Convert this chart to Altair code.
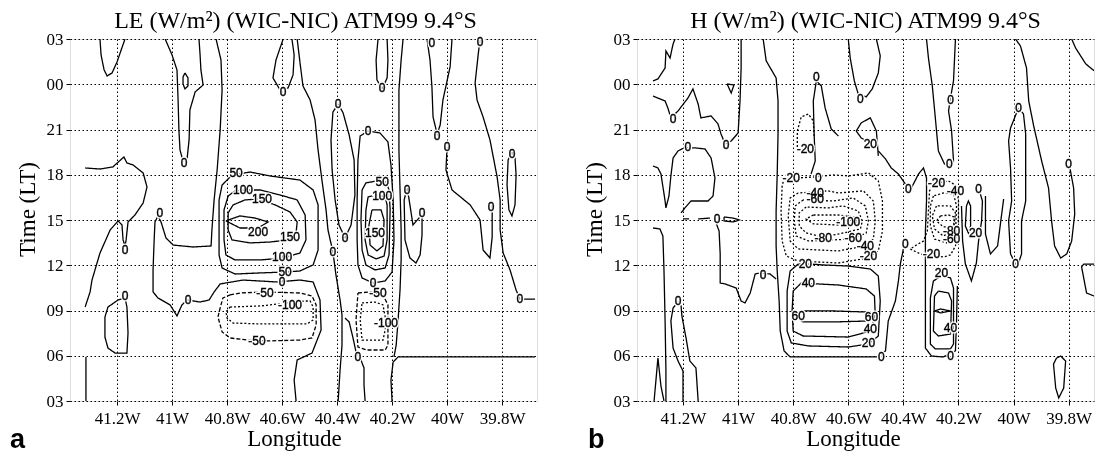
import altair as alt
import pandas as pd

# ---------------- axes ----------------
X_TICKS_W = [41.2, 41.0, 40.8, 40.6, 40.4, 40.2, 40.0, 39.8]
Y_TICKS = [3, 6, 9, 12, 15, 18, 21, 24, 27]          # 24..27 = 00..03 next day
LE_XDOMAIN_W = [41.371, 39.673]
H_XDOMAIN_W = [41.367, 39.708]
TITLE_LE = "LE (W/m²) (WIC-NIC) ATM99 9.4°S"
TITLE_H = "H (W/m²) (WIC-NIC) ATM99 9.4°S"

# ---------------- LE panel contours: (longitude °W, hour) ----------------
le_c01 = [(41.262,27.0),(41.258,25.94),(41.247,24.95),(41.236,24.55),(41.218,24.75),(41.200,25.48),(41.185,26.27),(41.171,27.0)]
le_c02 = [(41.025,27.0),(41.000,25.94),(40.982,24.95),(40.978,22.96),(40.975,20.97),(40.971,19.64),(40.960,18.91),(40.945,19.11),(40.938,20.31),(40.935,22.30),(40.916,23.49),(40.887,23.95),(40.895,24.95),(40.898,25.94),(40.902,27.0)]
le_c03 = [(40.953,24.75),(40.942,24.42),(40.942,23.89),(40.953,23.69),(40.960,24.02),(40.960,24.48),(40.953,24.75)]
le_c04 = [(41.316,18.45),(41.262,18.38),(41.215,18.52),(41.175,19.18),(41.164,18.78),(41.142,18.65),(41.105,18.12),(41.091,17.19),(41.105,16.13),(41.135,15.33),(41.160,14.87),(41.167,13.68),(41.171,13.28),(41.178,13.68),(41.182,14.67),(41.196,14.94),(41.225,14.34),(41.262,12.81),(41.291,11.02),(41.298,10.23),(41.316,9.23)]
le_c05 = [(41.171,9.83),(41.196,9.70),(41.233,9.23),(41.244,8.57),(41.244,7.24),(41.233,6.51),(41.207,6.18),(41.164,6.18),(41.160,7.51),(41.164,9.23),(41.171,9.83)]
le_c06 = [(40.840,27.0),(40.822,25.61),(40.818,23.62),(40.825,20.97),(40.836,18.32),(40.847,16.33),(40.855,14.34),(40.858,13.28),(40.924,13.21),(40.996,13.34),(41.022,13.81),(41.040,14.87),(41.051,15.27),(41.062,14.87),(41.065,13.68),(41.069,11.69),(41.069,10.23),(41.051,9.83),(41.007,9.37),(40.982,8.64),(40.964,9.37),(40.945,9.70),(40.898,9.56),(40.865,9.70),(40.847,10.23),(40.825,10.76),(40.742,11.02),(40.618,10.89),(40.535,11.02),(40.487,10.89),(40.462,9.70),(40.458,7.71),(40.491,6.18),(40.545,5.72),(40.556,4.39),(40.549,3.0)]
le_c07 = [(40.545,27.0),(40.535,25.48),(40.524,23.89),(40.498,22.96),(40.480,21.63),(40.469,19.64),(40.455,17.65),(40.440,15.67),(40.433,14.34),(40.415,12.88),(40.404,11.36),(40.389,9.70),(40.382,8.70),(40.382,6.71),(40.389,5.06),(40.396,3.0)]
le_c08 = [(40.596,27.0),(40.622,25.61),(40.633,24.42),(40.607,23.62),(40.578,23.76),(40.560,24.62),(40.556,25.94),(40.564,27.0)]
le_c09 = [(40.396,22.69),(40.415,22.16),(40.422,20.31),(40.418,18.32),(40.407,16.33),(40.393,14.67),(40.371,13.81),(40.349,14.67),(40.335,16.66),(40.338,18.98),(40.356,20.64),(40.378,22.10),(40.396,22.69)]
le_c10 = [(40.287,20.90),(40.316,20.57),(40.324,18.98),(40.327,16.33),(40.327,13.68),(40.324,12.02),(40.309,11.16),(40.269,10.82),(40.225,10.96),(40.200,11.55),(40.193,13.68),(40.196,16.33),(40.204,18.65),(40.215,20.18),(40.244,20.77),(40.287,20.90)]
le_c11 = [(40.255,17.59),(40.295,17.46),(40.309,16.99),(40.313,15.0),(40.309,13.01),(40.295,12.02),(40.262,11.69),(40.225,11.82),(40.211,12.68),(40.207,15.67),(40.211,16.99),(40.222,17.52),(40.255,17.59)]
le_c12 = [(40.258,16.66),(40.287,16.53),(40.295,15.67),(40.298,13.68),(40.287,12.68),(40.258,12.42),(40.229,12.61),(40.218,13.68),(40.218,16.0),(40.225,16.53),(40.258,16.66)]
le_c13 = [(40.273,15.67),(40.284,14.67),(40.280,13.34),(40.255,12.95),(40.233,13.28),(40.229,15.0),(40.240,15.67),(40.273,15.67)]
le_c14 = [(40.760,18.05),(40.716,18.18),(40.644,17.92),(40.535,17.65),(40.487,16.99),(40.469,16.00),(40.469,13.01),(40.487,12.02),(40.535,11.62),(40.589,11.55),(40.680,11.49),(40.771,11.42),(40.818,11.82),(40.829,12.68),(40.829,16.33),(40.818,17.32),(40.789,17.85),(40.760,18.05)]
le_c15 = [(40.735,16.99),(40.680,16.99),(40.607,16.66),(40.545,16.33),(40.516,15.33),(40.513,13.68),(40.535,12.81),(40.596,12.48),(40.680,12.35),(40.771,12.35),(40.804,12.68),(40.811,13.68),(40.811,15.67),(40.796,16.59),(40.771,16.93),(40.735,16.99)]
le_c16 = [(40.687,16.39),(40.625,16.00),(40.571,15.53),(40.545,14.87),(40.549,14.14),(40.578,13.68),(40.644,13.54),(40.716,13.48),(40.782,13.68),(40.796,14.34),(40.796,15.47),(40.778,16.00),(40.735,16.33),(40.687,16.39)]
le_c17 = [(40.804,14.94),(40.753,15.27),(40.698,15.13),(40.651,14.87),(40.687,14.47),(40.753,14.47),(40.804,14.94)]
le_c18 = [(40.789,10.03),(40.753,10.16),(40.662,10.23),(40.535,10.16),(40.491,9.96),(40.476,9.37),(40.476,8.04),(40.491,7.18),(40.535,7.04),(40.655,6.98),(40.727,7.04),(40.789,7.18),(40.818,7.58),(40.833,8.57),(40.825,9.17),(40.815,9.83),(40.789,10.03)]
le_c19 = [(40.789,9.23),(40.680,9.30),(40.516,9.63),(40.498,9.63),(40.487,9.23),(40.487,8.37),(40.509,8.11),(40.680,8.11),(40.778,8.17),(40.800,8.50),(40.804,8.90),(40.789,9.23)]
le_c20 = [(40.324,10.16),(40.280,10.23),(40.233,10.03),(40.215,9.37),(40.215,6.71),(40.225,6.38),(40.291,6.38),(40.324,6.58),(40.331,8.37),(40.324,10.16)]
le_c21 = [(40.309,9.50),(40.262,9.56),(40.233,9.37),(40.225,8.57),(40.225,7.71),(40.233,7.04),(40.309,7.04),(40.316,8.37),(40.309,9.50)]
le_c22 = [(40.371,8.50),(40.356,8.24),(40.342,7.18),(40.331,6.25),(40.316,5.85),(40.302,5.19),(40.302,4.06),(40.298,3.0)]
le_c23 = [(40.200,3.0),(40.204,4.39),(40.196,5.59),(40.178,5.92),(39.989,5.92),(39.680,5.92)]
le_c24 = [(40.160,27.0),(40.167,25.61),(40.175,23.62),(40.175,21.63),(40.175,19.64),(40.171,16.99),(40.167,14.34),(40.167,12.35),(40.171,10.36),(40.178,8.37),(40.185,6.71),(40.193,5.92)]
le_c25 = [(40.145,17.12),(40.156,16.33),(40.153,13.68),(40.135,12.48),(40.113,12.15),(40.098,12.68),(40.091,14.01),(40.091,15.33),(40.102,15.13),(40.124,14.67),(40.135,16.0),(40.145,17.12)]
le_c26 = [(40.073,27.0),(40.062,25.61),(40.055,23.82),(40.051,21.83),(40.036,20.70),(40.025,21.30),(40.015,22.96),(39.989,25.15),(39.982,27.0)]
le_c27 = [(39.880,27.0),(39.887,25.94),(39.898,24.09),(39.891,22.96),(39.869,21.83),(39.844,20.31),(39.818,17.85),(39.807,16.33),(39.807,14.34),(39.796,12.81),(39.771,11.69),(39.749,10.36),(39.735,9.76),(39.680,9.76)]
le_c28 = [(40.000,19.78),(40.004,18.32),(39.982,16.99),(39.916,16.0),(39.880,15.0),(39.869,13.01),(39.844,12.48),(39.836,13.87),(39.836,16.0)]
le_c29 = [(39.764,19.51),(39.778,18.98),(39.782,17.32),(39.775,15.67),(39.764,15.27),(39.753,16.0),(39.749,17.99),(39.753,19.11),(39.764,19.51)]
le_c30 = [(41.313,5.92),(41.313,3.0)]
le_c31 = [(40.251,27.0),(40.258,25.61),(40.255,24.29),(40.236,23.69),(40.218,24.42),(40.215,25.61),(40.218,27.0)]

LE_LINES = [
    ("solid", le_c01), ("solid", le_c02), ("solid", le_c03), ("solid", le_c04), ("solid", le_c05),
    ("solid", le_c06), ("solid", le_c07), ("solid", le_c08), ("solid", le_c09), ("solid", le_c10),
    ("solid", le_c11), ("solid", le_c12), ("solid", le_c13), ("solid", le_c14), ("solid", le_c15),
    ("solid", le_c16), ("solid", le_c17), ("dash", le_c18), ("dot", le_c19), ("dash", le_c20),
    ("dot", le_c21), ("solid", le_c22), ("solid", le_c23), ("solid", le_c24), ("solid", le_c25),
    ("solid", le_c26), ("solid", le_c27), ("solid", le_c28), ("solid", le_c29), ("solid", le_c30),
    ("solid", le_c31),
]

LE_LABELS = [
    ("0", 40.956, 18.78), ("0", 41.171, 13.01), ("0", 41.171, 9.96), ("0", 41.044, 15.47),
    ("0", 40.942, 9.70), ("0", 40.600, 10.89), ("0", 40.415, 12.88), ("0", 40.596, 23.49),
    ("0", 40.396, 22.69), ("0", 40.371, 13.81), ("0", 40.287, 20.90), ("0", 40.269, 10.82),
    ("50", 40.236, 17.52), ("100", 40.236, 16.59), ("150", 40.262, 14.14),
    ("50", 40.767, 18.12), ("50", 40.589, 11.55), ("100", 40.742, 16.99), ("100", 40.600, 12.55),
    ("150", 40.673, 16.39), ("150", 40.571, 13.87), ("200", 40.687, 14.21),
    ("-50", 40.662, 10.16), ("-50", 40.691, 6.98), ("-100", 40.571, 9.37),
    ("-50", 40.251, 10.16), ("-100", 40.222, 8.17), ("0", 40.324, 5.92),
    ("0", 40.145, 16.99), ("0", 40.091, 15.47), ("0", 40.055, 26.74), ("0", 40.036, 20.57),
    ("0", 39.880, 26.80), ("0", 39.735, 9.76), ("0", 40.000, 19.84), ("0", 39.840, 15.86),
    ("0", 39.764, 19.38), ("0", 40.236, 23.76),
]

# ---------------- H panel contours ----------------
h_c01 = [(41.309,24.22),(41.291,24.35),(41.265,25.08),(41.262,26.21),(41.247,25.74),(41.236,26.67),(41.229,27.0)]
h_c02 = [(41.309,23.22),(41.265,22.89),(41.255,22.43),(41.244,21.77),(41.218,22.23),(41.182,23.09),(41.164,23.69),(41.145,22.69),(41.135,21.77),(41.098,21.90),(41.073,21.37),(41.062,20.70),(41.047,20.04),(41.025,20.24),(41.000,20.77),(40.993,22.89),(40.989,25.08),(40.989,27.0)]
h_c03 = [(41.040,24.02),(41.015,23.95),(41.025,23.42),(41.040,24.02)]
h_c04 = [(40.909,27.0),(40.898,25.55),(40.862,24.42),(40.855,22.89),(40.855,20.70),(40.858,18.05),(40.862,15.60),(40.862,13.28),(40.858,11.62),(40.851,9.63),(40.847,7.64),(40.833,6.32),(40.811,5.92),(40.600,5.92),(40.491,5.92),(40.465,6.32),(40.455,8.30),(40.429,9.63),(40.418,10.96),(40.411,12.08),(40.400,13.08)]
h_c05 = [(41.309,18.58),(41.291,18.45),(41.280,18.05),(41.265,16.26),(41.262,15.80),(41.251,16.59),(41.244,17.92),(41.236,19.11),(41.218,19.58),(41.196,19.78),(41.156,19.78),(41.120,19.71),(41.098,19.11),(41.084,17.79),(41.091,16.59),(41.109,16.26),(41.171,16.26),(41.193,15.80),(41.207,15.47)]
h_c06a = [(41.145,15.07),(41.102,15.13)]
h_c06b = [(41.051,15.20),(41.018,15.13),(40.996,15.00),(41.018,14.87),(41.051,14.94),(41.051,15.20)]
h_c06c = [(41.200,15.07),(41.178,15.07)]
h_c07 = [(41.309,14.47),(41.284,14.41),(41.273,13.94),(41.269,11.62),(41.265,8.30),(41.262,4.99),(41.262,3.0)]
h_c08 = [(41.305,3.0),(41.291,5.85),(41.280,3.99),(41.269,3.0)]
h_c09 = [(41.200,3.0),(41.200,4.99),(41.218,5.65),(41.236,6.51),(41.244,8.30),(41.236,9.17),(41.218,9.56),(41.207,9.30),(41.204,8.64),(41.189,7.18),(41.175,5.65),(41.153,5.19),(41.145,3.0)]
h_c10 = [(41.080,14.80),(41.069,14.27),(41.065,12.75),(41.065,10.82),(41.047,10.76),(41.007,10.49),(40.989,9.63),(40.975,9.50),(40.956,10.16),(40.938,11.42),(40.920,11.49),(40.884,11.42),(40.862,11.09)]
h_c11 = [(40.735,18.05),(40.720,18.91),(40.724,20.70),(40.727,22.89),(40.716,24.22),(40.698,23.89),(40.684,22.43),(40.662,21.04),(40.636,20.57)]
h_c12 = [(40.785,19.58),(40.785,20.90),(40.771,21.83),(40.745,22.03),(40.727,21.57),(40.724,20.57)]
h_c13 = [(40.600,27.0),(40.593,25.74),(40.578,24.22),(40.564,23.36),(40.535,23.16),(40.513,23.69),(40.491,24.75),(40.484,25.88),(40.498,27.0)]
h_c14 = [(40.491,19.25),(40.498,20.90),(40.520,21.77),(40.553,21.44),(40.571,20.90),(40.553,20.44),(40.535,20.24)]
h_c15 = [(40.491,19.58),(40.465,19.05),(40.444,18.45),(40.418,18.05),(40.393,17.39),(40.371,17.12),(40.345,18.05),(40.327,18.45),(40.316,17.79),(40.316,16.26),(40.320,14.27),(40.320,12.28),(40.320,10.49),(40.320,6.51),(40.298,5.98),(40.255,5.92),(40.211,6.32),(40.207,8.30),(40.204,10.63)]
h_c16 = [(40.375,13.08),(40.338,12.75),(40.309,12.68),(40.255,12.55),(40.229,12.68),(40.211,13.28),(40.200,14.27),(40.200,16.26),(40.207,17.26),(40.236,17.59),(40.291,17.39),(40.305,16.93),(40.309,15.60),(40.313,14.27),(40.327,13.61),(40.353,13.34),(40.375,13.08)]
h_c17 = [(40.291,16.59),(40.302,15.93),(40.302,14.60),(40.287,13.74),(40.244,13.48),(40.211,13.94),(40.207,15.93),(40.218,16.72),(40.255,16.79),(40.291,16.59)]
h_c18 = [(40.280,15.93),(40.295,15.27),(40.287,14.41),(40.255,13.94),(40.218,14.27),(40.211,15.47),(40.229,15.93),(40.280,15.93)]
h_c19 = [(40.265,15.27),(40.280,14.94),(40.255,14.54),(40.218,14.54),(40.215,15.20),(40.236,15.33),(40.265,15.27)]
h_c20 = [(40.171,15.93),(40.175,14.60),(40.164,14.14),(40.156,14.60),(40.156,15.93),(40.164,16.26),(40.171,15.93)]
h_c21 = [(40.189,15.93),(40.185,13.61),(40.175,12.08),(40.153,10.96),(40.135,12.15),(40.127,13.61),(40.116,14.94),(40.113,16.26),(40.124,16.93)]
h_c22 = [(40.102,16.59),(40.102,14.07),(40.084,12.75),(40.058,13.28),(40.044,15.27),(40.036,16.39)]
h_c23 = [(39.982,22.43),(40.011,21.10),(40.018,20.24),(40.011,18.45),(40.007,16.26),(40.018,14.94),(40.011,12.75),(39.993,12.08),(39.982,12.15),(39.971,12.75),(39.971,14.94),(39.956,16.26),(39.956,18.45),(39.956,20.70),(39.964,22.03),(39.982,22.43)]
h_c24 = [(39.993,27.0),(39.975,26.54),(39.953,25.08),(39.945,22.89),(39.927,21.24),(39.898,18.91),(39.873,17.12),(39.862,14.94),(39.851,13.28),(39.829,12.48),(39.807,12.75),(39.789,13.61),(39.778,15.40),(39.782,17.12),(39.796,18.52)]
h_c25 = [(39.789,27.0),(39.775,26.41),(39.738,25.35),(39.708,24.90)]
h_c26 = [(39.708,12.08),(39.745,12.08),(39.753,11.89),(39.735,10.16),(39.708,9.96)]
h_c27 = [(39.844,5.85),(39.855,5.45),(39.847,3.86),(39.836,3.20),(39.818,3.86),(39.811,5.65),(39.829,5.98),(39.844,5.85)]
h_c28 = [(40.833,17.79),(40.840,17.26),(40.844,15.60),(40.840,13.61),(40.825,12.61),(40.782,12.28),(40.636,12.15),(40.527,12.48),(40.491,12.95),(40.476,14.27),(40.476,16.26),(40.491,17.59),(40.527,18.12),(40.600,17.92),(40.655,17.99),(40.727,17.85),(40.782,17.79),(40.833,17.79)]
h_c29 = [(40.782,16.79),(40.811,16.46),(40.818,15.27),(40.811,13.61),(40.782,13.08),(40.636,12.95),(40.538,13.28),(40.509,13.74),(40.502,14.94),(40.509,16.26),(40.545,16.93),(40.636,16.79),(40.673,16.93),(40.782,16.79)]
h_c30 = [(40.764,16.33),(40.793,15.93),(40.796,14.94),(40.789,13.94),(40.745,13.61),(40.582,13.74),(40.535,14.14),(40.527,14.94),(40.538,15.93),(40.582,16.46),(40.655,16.26),(40.764,16.33)]
h_c31 = [(40.753,15.86),(40.778,15.47),(40.778,14.60),(40.753,14.14),(40.691,13.87),(40.618,14.14),(40.556,14.41),(40.549,14.94),(40.564,15.60),(40.618,15.93),(40.673,15.80),(40.753,15.86)]
h_c32 = [(40.727,15.33),(40.753,15.07),(40.727,14.74),(40.636,14.67),(40.564,14.80),(40.578,15.20),(40.636,15.33),(40.727,15.33)]
h_c33 = [(40.782,12.08),(40.811,11.62),(40.822,10.29),(40.822,7.64),(40.807,6.85),(40.745,6.65),(40.600,6.58),(40.527,6.78),(40.491,7.31),(40.484,9.63),(40.491,11.29),(40.520,11.75),(40.600,11.95),(40.691,12.02),(40.738,12.08),(40.782,12.08)]
h_c34 = [(40.771,10.82),(40.800,10.29),(40.804,8.97),(40.800,7.64),(40.764,7.31),(40.600,7.24),(40.520,7.64),(40.502,8.64),(40.505,9.96),(40.535,10.43),(40.636,10.69),(40.709,10.76),(40.771,10.82)]
h_c35 = [(40.764,8.97),(40.655,8.97),(40.535,8.90),(40.502,8.64),(40.535,8.30),(40.655,8.24),(40.764,8.24),(40.793,8.57),(40.764,8.97)]
h_c38 = [(40.291,10.96),(40.302,9.83),(40.302,6.78),(40.284,6.45),(40.229,6.45),(40.218,6.78),(40.218,10.49),(40.229,11.16),(40.262,11.29),(40.291,10.96)]
h_c39 = [(40.273,10.29),(40.287,9.96),(40.291,7.64),(40.273,7.31),(40.229,7.44),(40.225,9.63),(40.236,10.16),(40.273,10.29)]
h_c40 = [(40.287,8.97),(40.265,9.10),(40.229,8.97),(40.265,8.84),(40.287,8.97)]
h_c42 = [(40.316,27.0),(40.309,25.74),(40.295,23.89),(40.284,21.77),(40.273,19.58),(40.251,18.72),(40.233,18.58),(40.218,18.91),(40.225,20.90),(40.236,22.23),(40.229,23.09),(40.218,24.22),(40.211,27.0)]

H_LINES = [
    ("solid", h_c01), ("solid", h_c02), ("solid", h_c03), ("solid", h_c04), ("solid", h_c05),
    ("solid", h_c06a), ("solid", h_c06b), ("solid", h_c06c), ("solid", h_c07), ("solid", h_c08),
    ("solid", h_c09), ("solid", h_c10), ("solid", h_c11), ("dot", h_c12), ("solid", h_c13),
    ("solid", h_c14), ("solid", h_c15), ("dot", h_c16), ("dot", h_c17), ("dot", h_c18),
    ("dot", h_c19), ("solid", h_c20), ("solid", h_c21), ("solid", h_c22), ("solid", h_c23),
    ("solid", h_c24), ("solid", h_c25), ("solid", h_c26), ("solid", h_c27), ("dot", h_c28),
    ("dot", h_c29), ("dot", h_c30), ("dot", h_c31), ("dot", h_c32), ("solid", h_c33),
    ("solid", h_c34), ("solid", h_c35), ("solid", h_c38), ("solid", h_c39), ("solid", h_c40),
    ("solid", h_c42),
]

H_LABELS = [
    ("0", 41.236, 21.70), ("0", 41.044, 19.98), ("0", 40.480, 5.92), ("0", 40.393, 13.41),
    ("0", 41.182, 19.84), ("0", 41.076, 15.07), ("0", 41.218, 9.63), ("0", 40.909, 11.36),
    ("0", 40.716, 24.48), ("-20", 40.756, 19.71), ("0", 40.556, 23.03), ("20", 40.520, 20.04),
    ("0", 40.382, 17.06), ("0", 40.229, 5.98), ("-20", 40.280, 17.46), ("-20", 40.298, 12.75),
    ("-40", 40.211, 16.93), ("-60", 40.225, 13.74), ("-80", 40.225, 14.27), ("20", 40.138, 14.14),
    ("0", 40.127, 17.06), ("0", 39.982, 22.43), ("0", 39.993, 12.08), ("0", 39.800, 18.72),
    ("-20", 40.807, 17.79), ("-20", 40.527, 12.61), ("0", 40.709, 17.79),
    ("-40", 40.720, 16.79), ("-40", 40.538, 13.28), ("-60", 40.720, 16.39), ("-60", 40.582, 13.81),
    ("-80", 40.691, 13.81), ("-100", 40.600, 14.87), ("20", 40.756, 12.08), ("20", 40.527, 6.85),
    ("40", 40.745, 10.82), ("40", 40.520, 7.77), ("60", 40.782, 8.64), ("60", 40.516, 8.57),
    ("20", 40.262, 11.49), ("40", 40.229, 7.84), ("0", 40.229, 22.96), ("0", 40.233, 18.72),
]

SERIF = "Liberation Serif"
SANS = "Liberation Sans"
PLOT_H = 362


def panel(lines, labels, title, xdom_w, width, tag, tag_dx, title_dx, xtitle_x):
    rows = []
    for cid, (style, pts) in enumerate(lines):
        for seq, (lonw, hr) in enumerate(pts):
            rows.append({"cid": cid, "seq": seq, "lon": -lonw, "hr": hr, "style": style})
    ldf = pd.DataFrame(rows)
    tdf = pd.DataFrame([{"txt": t, "lon": -lo, "hr": h} for t, lo, h in labels])

    xs = alt.Scale(domain=[-xdom_w[0], -xdom_w[1]], nice=False, zero=False)
    ys = alt.Scale(domain=[3, 27], nice=False, zero=False)
    xaxis = alt.Axis(values=[-v for v in X_TICKS_W],
                     labelExpr="format(-datum.value, '.1~f') + 'W'",
                     title="Longitude", grid=True, gridColor="black", gridDash=[1.5, 2.5],
                     gridWidth=1, gridOpacity=1, domain=False, ticks=True, tickSize=4,
                     tickColor="black", labelFont=SERIF, labelFontSize=17, labelColor="black",
                     labelPadding=5, titleFont=SERIF, titleFontSize=23,
                     titleFontWeight="normal", titleColor="black", titlePadding=1,
                     titleX=xtitle_x, labelFlush=False, labelOverlap=False)
    yaxis = alt.Axis(values=Y_TICKS,
                     labelExpr="(datum.value % 24 < 10 ? '0' : '') + (datum.value % 24)",
                     title="Time (LT)", grid=True, gridColor="black", gridDash=[1.5, 2.5],
                     gridWidth=1, gridOpacity=1, domain=False, ticks=True, tickSize=4,
                     tickColor="black", labelFont=SERIF, labelFontSize=17, labelColor="black",
                     labelPadding=3, titleFont=SERIF, titleFontSize=23,
                     titleFontWeight="normal", titleColor="black", titlePadding=7,
                     titleY=170, labelFlush=False, labelOverlap=False)

    line_layer = alt.Chart(ldf).mark_line(color="black", strokeWidth=1.3, clip=True).encode(
        x=alt.X("lon:Q", scale=xs, axis=xaxis),
        y=alt.Y("hr:Q", scale=ys, axis=yaxis),
        detail="cid:N",
        order="seq:Q",
        strokeDash=alt.StrokeDash("style:N", legend=None,
                                  scale=alt.Scale(domain=["solid", "dash", "dot"],
                                                  range=[[1, 0], [4, 2], [2, 2]])),
    )
    enc = dict(x=alt.X("lon:Q", scale=xs, axis=xaxis), y=alt.Y("hr:Q", scale=ys, axis=yaxis),
               text="txt:N")
    halo = alt.Chart(tdf).mark_text(font=SANS, fontSize=12, color="white", stroke="white",
                                    strokeWidth=3).encode(**enc)
    txt = alt.Chart(tdf).mark_text(font=SANS, fontSize=12, color="black", stroke="black",
                                   strokeWidth=0.4, blend="multiply").encode(**enc)
    tag_layer = alt.Chart(pd.DataFrame({"t": [tag]})).mark_text(
        align="left", baseline="alphabetic", font=SANS, fontSize=27, fontWeight="bold",
        color="black").encode(text="t:N", x=alt.value(tag_dx), y=alt.value(PLOT_H + 47))
    return alt.layer(line_layer, halo, txt, tag_layer).properties(
        width=width, height=PLOT_H,
        title=alt.TitleParams(title, font=SERIF, fontSize=24, fontWeight="normal",
                              color="black", anchor="middle", offset=-3, dx=title_dx),
    )


left = panel(LE_LINES, LE_LABELS, TITLE_LE, LE_XDOMAIN_W, 467, "a", -60, -8, 224)
right = panel(H_LINES, H_LABELS, TITLE_H, H_XDOMAIN_W, 457, "b", -49, 0, 216)

chart = alt.hconcat(left, right, spacing=44).properties(
    padding={"left": 9, "top": 8, "right": 0, "bottom": 0}
).configure_view(stroke="black", strokeWidth=2.5).configure(background="white")

chart.save("out.html", embed_options={"renderer": "svg", "actions": False})
